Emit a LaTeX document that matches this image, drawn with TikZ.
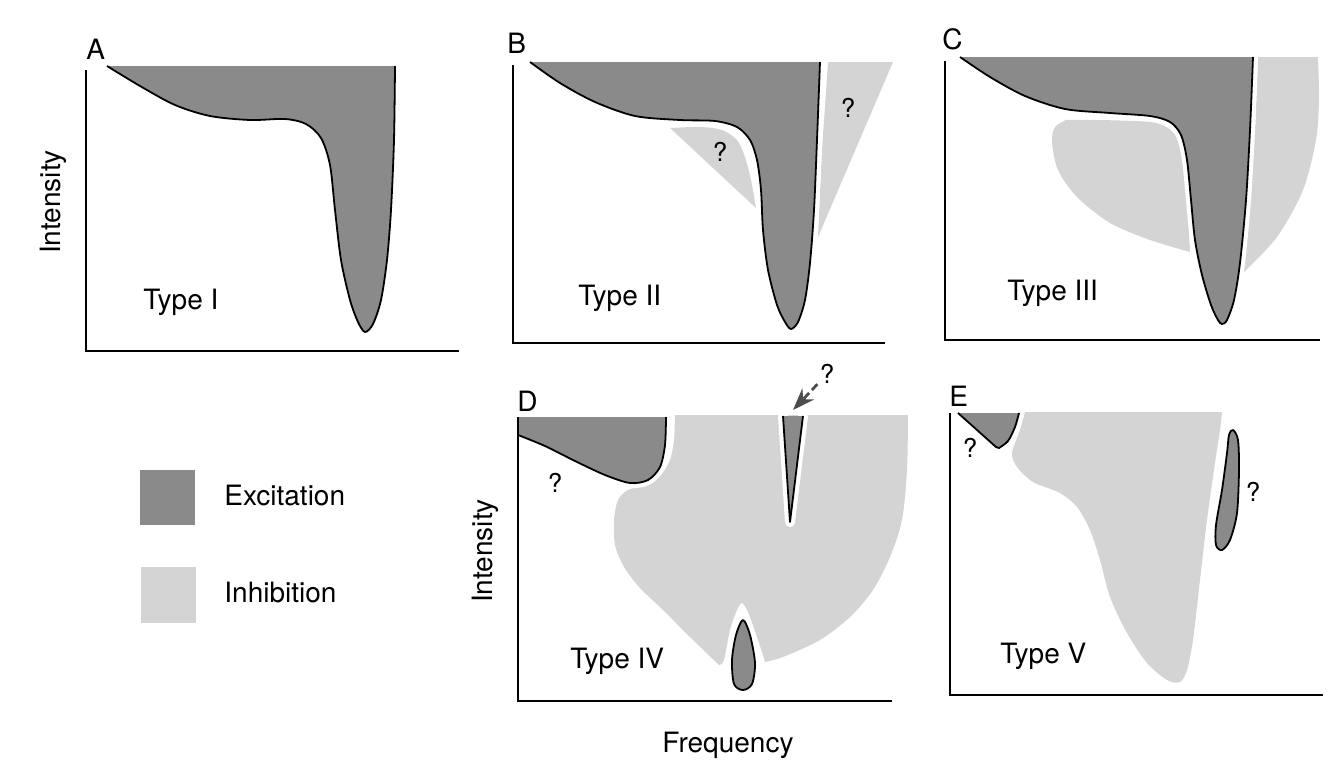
\documentclass[tikz,border=0pt]{standalone}
\usepackage{fontspec}
\setmainfont{TeX Gyre Heros}
\usetikzlibrary{arrows.meta}
\definecolor{exc}{gray}{0.54}
\definecolor{inh}{gray}{0.83}
\tikzset{
  excreg/.style={preaction={draw=white,line width=5pt,line join=round,line cap=round},
                 preaction={fill=exc}, draw=black, line width=0.9pt, line join=round},
  inhreg/.style={fill=inh},
  axisline/.style={draw=black, line width=1.2pt},
  lbl/.style={font=\fontsize{14}{16}\selectfont, inner sep=0pt},
  qlbl/.style={font=\fontsize{13}{15}\selectfont, inner sep=1pt},
}
\begin{document}
\begin{tikzpicture}[x=0.5pt,y=-0.5pt]
\useasboundingbox (0,0) rectangle (1334,776);

% ---------------- Panel A ----------------
\path[excreg] plot[smooth] coordinates {(107,66) (140,86) (175,105) (210,116) (250,120) (285,119) (306,124) (321,138) (330,165) (335,210) (341,260) (350,300) (358,322) (365,332) (373,324) (381,300) (387,260) (391,210) (394,140) (395,66)};
\draw[axisline] (86,70) -- (86,351) -- (459,351);
\node[lbl, anchor=base west] (labA) at (86,59) {A};
\node[lbl, rotate=90] (intA) at (53,202) {Intensity};
\node[lbl, anchor=base west] (typeI) at (143,309) {Type I};

% ---------------- Panel B ----------------
\fill[inhreg] plot[smooth] coordinates {(670,128) (700,127) (722,130) (737,140) (745,157) (751,180) (756,208)} -- cycle;
\fill[inhreg] (828,62) -- (893,62) -- (818,237) -- (822,150) -- cycle;
\path[excreg] plot[smooth] coordinates {(530,62) (560,83) (595,102) (635,116) (680,120) (715,121) (737,127) (750,140) (757,160) (761,190) (763,230) (768,270) (777,305) (785,322) (791,329) (798,322) (805,300) (810,263) (814,210) (817,140) (820,62)};
\draw[axisline] (513,65) -- (513,343) -- (885,343);
\node[lbl, anchor=base west] (labB) at (507,54) {B};
\node[lbl, anchor=base west] (typeII) at (578,305) {Type II};
\node[qlbl] (qB1) at (720,152) {?};
\node[qlbl] (qB2) at (848,108) {?};

% ---------------- Panel C ----------------
\fill[inhreg] plot[smooth] coordinates {(1066,120) (1100,120) (1150,122) (1168,128) (1178,140) (1184,165) (1187,200) (1190,252)}
   -- plot[smooth] coordinates {(1190,252) (1150,240) (1110,223) (1077,197) (1058,170) (1052,142) (1055,127) (1066,120)} -- cycle;
\fill[inhreg] (1258,57) -- (1318,57) -- plot[smooth] coordinates {(1318,57) (1319,100) (1316,140) (1303,190) (1277,237) (1243,273)}
   -- plot[smooth] coordinates {(1243,273) (1246,240) (1251,190) (1255,130) (1258,57)} -- cycle;
\path[excreg] plot[smooth] coordinates {(960,57) (990,77) (1025,96) (1065,109) (1110,113) (1150,116) (1170,122) (1181,135) (1187,160) (1191,200) (1195,240) (1202,275) (1211,305) (1218,320) (1222,324) (1227,320) (1234,300) (1240,263) (1246,200) (1250,130) (1253,57)};
\draw[axisline] (945,61) -- (945,340) -- (1320,340);
\node[lbl, anchor=base west] (labC) at (942,49) {C};
\node[lbl, anchor=base west] (typeIII) at (1007,300) {Type III};

% ---------------- Panel D ----------------
\fill[inhreg] (675,415) -- (908,415)
   -- plot[smooth] coordinates {(908,415) (907,470) (902,520) (890,557) (873,590) (850,617) (820,640) (783,657) (765,662)}
   -- plot[smooth] coordinates {(765,662) (763,655) (757,637) (748,612) (742,603) (737,610) (730,630) (724,660) (719,665)}
   -- plot[smooth] coordinates {(719,665) (690,637) (663,610) (640,588) (624,567) (615,545) (614,520) (618,500) (628,490) (645,485) (660,476) (670,460) (674,440) (675,415)} -- cycle;
\path[excreg] (518,417) -- (518,435) -- plot[smooth] coordinates {(518,435) (545,446) (575,461) (605,475) (630,483) (648,480) (660,467) (665,445) (666,417)};
\path[excreg] (783,416) -- (790,522) -- (803,416);
\path[excreg] plot[smooth cycle] coordinates {(743,620) (750,635) (755,663) (752,684) (743,690) (734,684) (732,660) (736,635)};
\draw[axisline] (518,418) -- (518,701) -- (892,701);
\node[lbl, anchor=base west] (labD) at (517,411) {D};
\node[lbl, rotate=90] (intD) at (485,551) {Intensity};
\node[lbl, anchor=base west] (typeIV) at (570,668) {Type IV};
\node[lbl, anchor=base west] (freq) at (662,752) {Frequency};
\node[qlbl] (qD1) at (555,483) {?};
\node[qlbl] (qD2) at (827,374) {?};
\coordinate (arrD) at (793,410);
\draw[draw=gray!60!black, line width=1.4pt, dash pattern=on 4pt off 2pt,
      -{Stealth[length=11pt,width=8pt]}] (qD2) -- (arrD);

% ---------------- Panel E ----------------
\fill[inhreg] (1025,412) -- (1222,412)
   -- plot[smooth] coordinates {(1222,412) (1220,430) (1215,463) (1207,520) (1200,580) (1193,640) (1187,670) (1180,682) (1167,680) (1147,663) (1127,633) (1110,597) (1100,560) (1090,530) (1077,507) (1060,493) (1033,482) (1017,467) (1012,453) (1020,430) (1025,412)} -- cycle;
\path[excreg] plot[smooth] coordinates {(1019,413) (1015,427) (1008,441) (999,448)} -- (996,447) -- (958,413);
\path[excreg] plot[smooth cycle] coordinates {(1233,430) (1238,440) (1239,470) (1237,513) (1230,540) (1222,550) (1216,545) (1216,525) (1222,490) (1227,453) (1229,435)};
\draw[axisline] (950,413) -- (950,695) -- (1323,695);
\node[lbl, anchor=base west] (labE) at (949,406) {E};
\node[lbl, anchor=base west] (typeV) at (1000,663) {Type V};
\node[qlbl] (qE1) at (970,448) {?};
\node[qlbl] (qE2) at (1253,492) {?};

% ---------------- Legend ----------------
\node[fill=exc, minimum width=27.5pt, minimum height=27.5pt, inner sep=0pt] (legExc) at (167.5,497.5) {};
\node[fill=inh, minimum width=27.5pt, minimum height=28pt, inner sep=0pt] (legInh) at (168.5,595) {};
\node[lbl, anchor=base west] (txtExc) at (224,505) {Excitation};
\node[lbl, anchor=base west] (txtInh) at (224,602) {Inhibition};
\end{tikzpicture}
\end{document}
